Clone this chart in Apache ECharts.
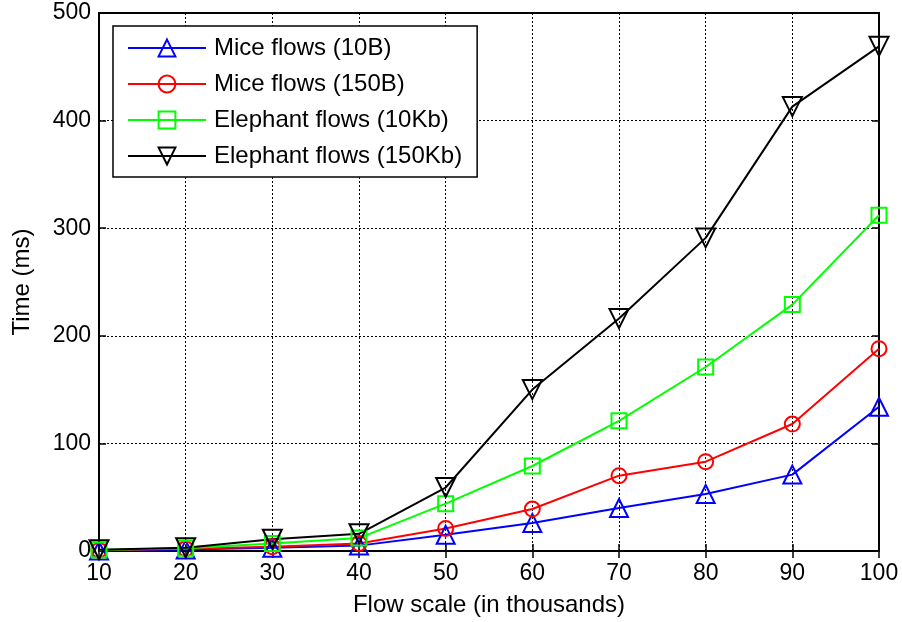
<!DOCTYPE html>
<html><head><meta charset="utf-8">
<script src="https://cdn.jsdelivr.net/npm/echarts@6/dist/echarts.min.js"></script>
<style>html,body{margin:0;padding:0;background:#fff}#c{width:902px;height:622px}</style>
</head><body><div id="c"></div>
<script>
const flowScale = [10, 20, 30, 40, 50, 60, 70, 80, 90, 100];
const miceSmall = [0.5, 1.5, 3, 5, 15, 26, 40, 53, 71, 134];
const miceLarge = [0.8, 2, 4, 7, 21, 39, 70, 83, 118, 188];
const elephantSmall = [1, 2.5, 7, 12, 44, 79, 121, 171, 229, 312];
const elephantLarge = [1.2, 3, 11, 16, 59, 150, 216, 291, 413, 469];
const seriesNames = ['Mice flows (10B)', 'Mice flows (150B)', 'Elephant flows (10Kb)', 'Elephant flows (150Kb)'];

const font = 'Liberation Sans, Arial, sans-serif';
const downTri = 'path://M0,0 L10,0 L5,8.66 Z';
function mk(name, vals, color, symbol, size) {
  return {
    name, type: 'line', data: flowScale.map((x, i) => [x, vals[i]]),
    symbol, symbolSize: size, showAllSymbol: true,
    lineStyle: { color, width: 2 },
    itemStyle: { color: 'rgba(0,0,0,0)', borderColor: color, borderWidth: 2 },
    emphasis: { disabled: true }, animation: false, z: 3
  };
}
const chart = echarts.init(document.getElementById('c'));
const gridLine = { show: true, lineStyle: { color: '#000', type: [2, 2], width: 1 } };
chart.setOption({
  animation: false,
  grid: { left: 99, right: 23, top: 13, bottom: 71, show: true, borderColor: '#000', borderWidth: 2 },
  legend: {
    orient: 'vertical', left: 113, top: 26, backgroundColor: '#fff', borderColor: '#000', borderWidth: 1.5,
    padding: [10, 15, 9, 14], itemWidth: 78, itemHeight: 21, itemGap: 12, borderRadius: 0,
    textStyle: { fontFamily: font, fontSize: 24, color: '#000', padding: [0, 0, 0, 3] },
    data: seriesNames
  },
  xAxis: [{
    type: 'value', min: 10, max: 100, interval: 10,
    name: 'Flow scale (in thousands)', nameLocation: 'middle', nameGap: 42,
    nameTextStyle: { fontFamily: font, fontSize: 24, color: '#000' },
    axisLine: { lineStyle: { color: '#000', width: 2 } },
    axisTick: { inside: true, length: 7, lineStyle: { color: '#000', width: 1.5 } },
    axisLabel: { fontFamily: font, fontSize: 23, color: '#000', margin: 11 },
    splitLine: gridLine
  }, {
    type: 'value', position: 'top', min: 10, max: 100, interval: 10,
    axisLine: { show: false }, axisTick: { inside: true, length: 7, lineStyle: { color: '#000', width: 1.5 } },
    axisLabel: { show: false }, splitLine: { show: false }
  }],
  yAxis: [{
    type: 'value', min: 0, max: 500, interval: 100,
    name: 'Time (ms)', nameLocation: 'middle', nameGap: 65,
    nameTextStyle: { fontFamily: font, fontSize: 24, color: '#000' },
    axisLine: { show: true, lineStyle: { color: '#000', width: 2 } },
    axisTick: { show: true, inside: true, length: 7, lineStyle: { color: '#000', width: 1.5 } },
    axisLabel: { fontFamily: font, fontSize: 23, color: '#000', margin: 8 },
    splitLine: gridLine
  }, {
    type: 'value', position: 'right', min: 0, max: 500, interval: 100,
    axisLine: { show: false }, axisTick: { show: true, inside: true, length: 7, lineStyle: { color: '#000', width: 1.5 } },
    axisLabel: { show: false }, splitLine: { show: false }
  }],
  series: [
    mk(seriesNames[0], miceSmall, '#0000ff', 'triangle', 18),
    mk(seriesNames[1], miceLarge, '#ff0000', 'circle', 15),
    mk(seriesNames[2], elephantSmall, '#00ff00', 'rect', 15),
    mk(seriesNames[3], elephantLarge, '#000000', downTri, 19)
  ]
});
</script></body></html>
